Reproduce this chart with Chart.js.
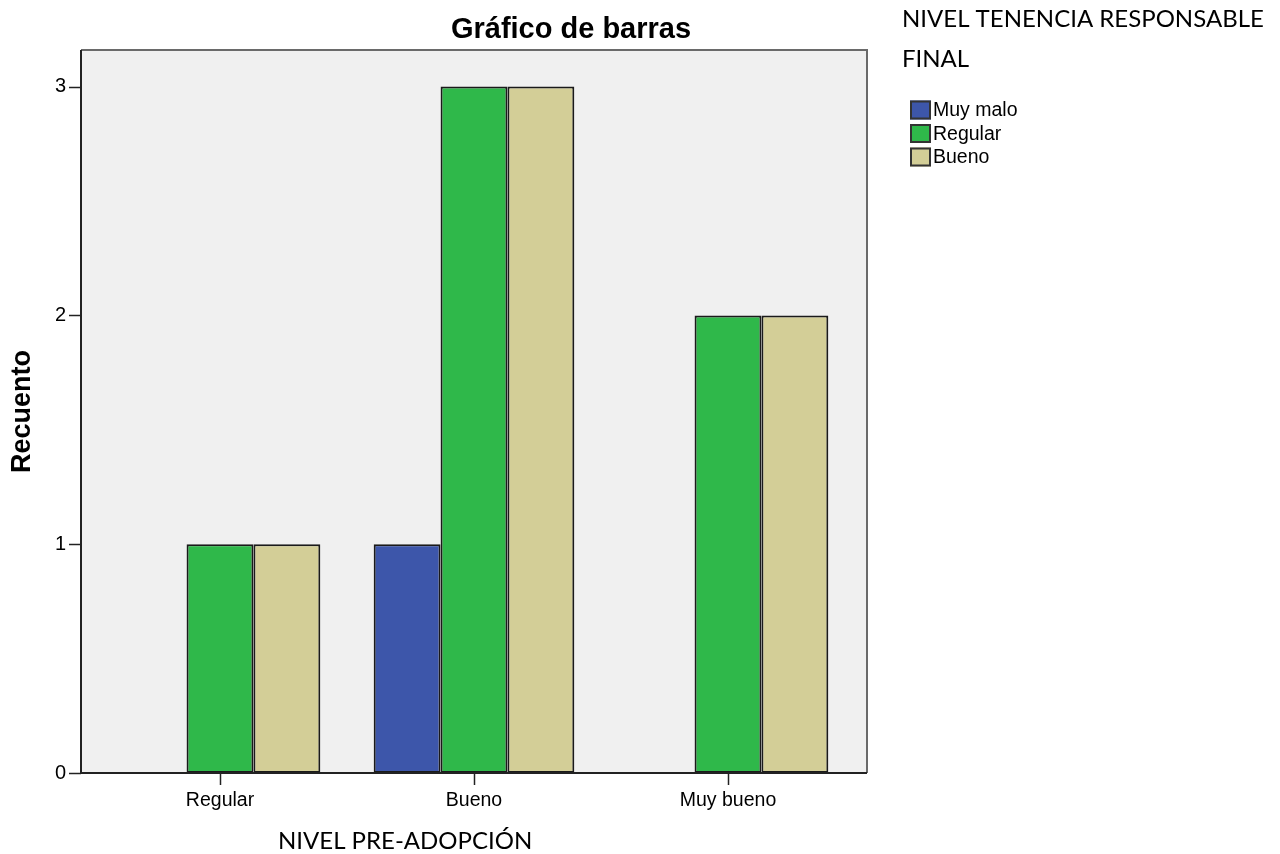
<!DOCTYPE html>
<html>
<head>
<meta charset="utf-8">
<script src="https://cdn.jsdelivr.net/npm/chart.js@4/dist/chart.umd.min.js"></script>
<style>
  html, body { margin: 0; padding: 0; background: #ffffff; }
  #wrap { width: 1280px; height: 854px; position: relative; }
</style>
</head>
<body>
<div id="wrap"><canvas id="c" width="1280" height="854"></canvas></div>
<script>
// ---- Data ----
const categories = ['Regular', 'Bueno', 'Muy bueno'];
const seriesNames = ['Muy malo', 'Regular', 'Bueno'];
const muyMalo = [null, 1, null];
const regular = [1, 3, 2];
const bueno = [1, 3, 2];
const yTicks = [0, 1, 2, 3];
const chartTitle = 'Gráfico de barras';
const yTitle = 'Recuento';
const xTitle = 'NIVEL PRE-ADOPCIÓN';
const legendTitleLines = ['NIVEL TENENCIA RESPONSABLE', 'FINAL'];

// ---- Styles ----
const colors = ['#3d56aa', '#2fb84a', '#d3ce97'];
const ARIAL = '"Liberation Sans", Arial, sans-serif';
const CALIBRI = 'Lato, "Open Sans", sans-serif';
const EXT = 12; // frame extends beyond chart area horizontally

const decor = {
  id: 'decor',
  beforeDatasetsDraw(chart) {
    const ctx = chart.ctx, a = chart.chartArea;
    ctx.save();
    ctx.fillStyle = '#f0f0f0';
    ctx.fillRect(a.left - EXT, a.top, a.right - a.left + 2 * EXT, a.bottom - a.top);
    ctx.restore();
  },
  afterDatasetsDraw(chart) {
    const ctx = chart.ctx, a = chart.chartArea;
    const L = a.left - EXT, R = a.right + EXT;
    ctx.save();
    // frame top / right
    ctx.strokeStyle = '#6a6a6a';
    ctx.lineWidth = 2;
    ctx.beginPath();
    ctx.moveTo(L, a.top); ctx.lineTo(R, a.top); ctx.lineTo(R, a.bottom);
    ctx.stroke();
    // axes left / bottom
    ctx.strokeStyle = '#222';
    ctx.beginPath();
    ctx.moveTo(L, a.top); ctx.lineTo(L, a.bottom); ctx.lineTo(R, a.bottom);
    ctx.stroke();
    // y tick marks
    const ys = chart.scales.y;
    ctx.lineWidth = 1.5;
    ys.ticks.forEach(t => {
      const y = Math.round(ys.getPixelForValue(t.value)) + 0.5;
      ctx.beginPath(); ctx.moveTo(L - 12, y); ctx.lineTo(L, y); ctx.stroke();
    });
    // x tick marks
    const xs = chart.scales.x;
    categories.forEach((c, i) => {
      const x = Math.round(xs.getPixelForValue(i)) + 0.5;
      ctx.beginPath(); ctx.moveTo(x, a.bottom); ctx.lineTo(x, a.bottom + 12); ctx.stroke();
    });
    // chart title
    ctx.fillStyle = '#000';
    ctx.font = 'bold 29px ' + ARIAL;
    ctx.textAlign = 'center';
    ctx.textBaseline = 'alphabetic';
    ctx.fillText(chartTitle, 571, 38);
    // y title
    ctx.save();
    ctx.translate(23, (a.top + a.bottom) / 2);
    ctx.rotate(-Math.PI / 2);
    ctx.textBaseline = 'middle';
    ctx.font = 'bold 27px ' + ARIAL;
    ctx.fillText(yTitle, 0, 0);
    ctx.restore();
    // x title (document-style caption)
    ctx.font = '24px ' + CALIBRI;
    ctx.textAlign = 'left';
    ctx.fillText(xTitle, 278, 849, 258);
    // legend title
    ctx.fillText(legendTitleLines[0], 902, 27, 368);
    ctx.fillText(legendTitleLines[1], 902, 67);
    // legend items
    ctx.font = '19.5px ' + ARIAL;
    ctx.textBaseline = 'middle';
    chart.data.datasets.forEach((ds, i) => {
      const cy = 110 + i * 23.5;
      ctx.fillStyle = ds.backgroundColor;
      ctx.fillRect(910, cy - 9.5, 21, 19);
      ctx.strokeStyle = '#333';
      ctx.lineWidth = 2;
      ctx.strokeRect(911, cy - 8.5, 19, 17);
      ctx.fillStyle = '#000';
      ctx.fillText(ds.label, 933, cy + 1);
    });
    ctx.restore();
  }
};

new Chart(document.getElementById('c'), {
  type: 'bar',
  data: {
    labels: categories,
    datasets: [muyMalo, regular, bueno].map((d, i) => ({
      label: seriesNames[i],
      data: d,
      backgroundColor: colors[i],
      borderColor: '#1a1a1a',
      borderWidth: 2,
      borderSkipped: false,
      categoryPercentage: 0.79,
      barPercentage: 1
    }))
  },
  options: {
    responsive: false,
    animation: false,
    layout: { padding: { left: 0, top: 50, right: 425, bottom: 0 } },
    plugins: { legend: { display: false }, title: { display: false }, tooltip: { enabled: false } },
    scales: {
      x: {
        offset: true,
        grid: { display: false },
        border: { display: false },
        ticks: { color: '#000', font: { family: ARIAL, size: 19.5 }, padding: 8, maxRotation: 0 },
        afterFit(s) { s.height = 81; }
      },
      y: {
        min: 0,
        max: 3.16,
        grid: { display: false },
        border: { display: false },
        afterBuildTicks(s) { s.ticks = yTicks.map(v => ({ value: v })); },
        ticks: { color: '#000', font: { family: ARIAL, size: 20 }, padding: 27 - 8 },
        afterFit(s) { s.width = 93; }
      }
    }
  },
  plugins: [decor]
});
</script>
</body>
</html>
